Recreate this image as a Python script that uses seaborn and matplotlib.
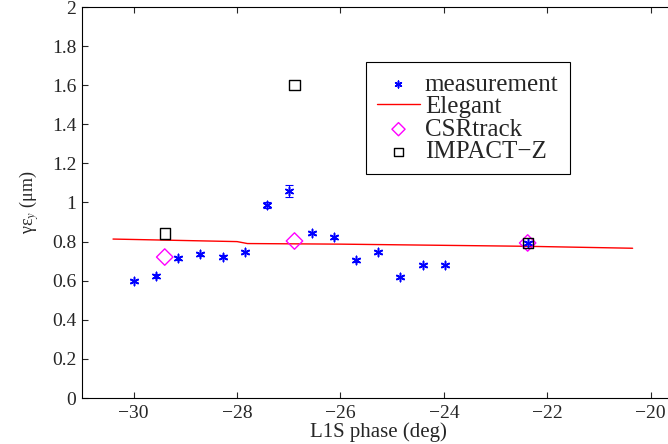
import numpy as np
import pandas as pd
import matplotlib
matplotlib.use("Agg")
import matplotlib.pyplot as plt
import seaborn as sns

# measurement data
meas_phase = [-30.0, -29.57, -29.14, -28.71, -28.28, -27.85, -27.42, -26.99,
              -26.56, -26.13, -25.70, -25.27, -24.84, -24.41, -23.98, -22.38]
meas_emit = [0.598, 0.624, 0.714, 0.735, 0.723, 0.748, 0.989, 1.057,
             0.844, 0.821, 0.704, 0.747, 0.619, 0.680, 0.680, 0.793]
meas_err = [0.006, 0.008, 0.006, 0.007, 0.006, 0.006, 0.015, 0.03,
            0.006, 0.006, 0.006, 0.006, 0.006, 0.006, 0.006, 0.006]

# Elegant simulation
ele_phase = [-30.4, -28.0, -27.8, -26.0, -22.4, -20.35]
ele_emit = [0.813, 0.800, 0.790, 0.787, 0.776, 0.766]

# CSRtrack simulation
csr_phase = [-29.4, -26.89, -22.38]
csr_emit = [0.721, 0.803, 0.793]

# IMPACT-Z simulation
imp_phase = [-29.4, -26.89, -22.38]
imp_emit = [0.842, 1.600, 0.793]

x_ticks = [-30, -28, -26, -24, -22, -20]
x_ticklabels = ['\u221230', '\u221228', '\u221226', '\u221224', '\u221222', '\u221220']
y_ticks = [0, 0.2, 0.4, 0.6, 0.8, 1.0, 1.2, 1.4, 1.6, 1.8, 2.0]
y_ticklabels = ['0', '0.2', '0.4', '0.6', '0.8', '1', '1.2', '1.4', '1.6', '1.8', '2']

sns.set_style("white")
plt.rcParams['font.family'] = ['Liberation Serif', 'DejaVu Serif']
plt.rcParams['mathtext.fontset'] = 'stix'

fig = plt.figure(figsize=(6.68, 4.44), dpi=100)
ax = fig.add_axes([82/668, 46/444, 592/668, 391/444])

ax.errorbar(meas_phase, meas_emit, yerr=meas_err, fmt='none', ecolor='blue',
            elinewidth=0.8, capsize=3, capthick=0.8, zorder=2)
sns.scatterplot(x=meas_phase, y=meas_emit, ax=ax, marker=(6, 2, 0), color='blue',
                s=36, linewidth=1.1, edgecolor='blue', label='measurement', zorder=3)
sns.lineplot(x=ele_phase, y=ele_emit, ax=ax, color='red', linewidth=1.0,
             label='Elegant', zorder=2)
sns.scatterplot(x=csr_phase, y=csr_emit, ax=ax, marker='D', s=70,
                facecolor='none', edgecolor='magenta', linewidth=1.0,
                label='CSRtrack', zorder=4)
sns.scatterplot(x=imp_phase, y=imp_emit, ax=ax, marker='s', s=55,
                facecolor='none', edgecolor='black', linewidth=1.0,
                label='IMPACT\u2212Z', zorder=4)

ax.set_xlim(-31, -31 + 592/51.7)
ax.set_ylim(0, 2)
ax.set_xticks(x_ticks)
ax.set_xticklabels(x_ticklabels)
ax.set_yticks(y_ticks)
ax.set_yticklabels(y_ticklabels)
ax.tick_params(direction='in', length=4, width=0.8, labelsize=14, top=True, right=True,
               bottom=True, left=True)
ax.tick_params(axis='y', pad=4)
ax.tick_params(axis='x', pad=5)
for sp in ax.spines.values():
    sp.set_visible(True)
    sp.set_color('black')
    sp.set_linewidth(0.8)

ax.set_xlabel('L1S phase (deg)', fontsize=15, labelpad=0)
ax.set_ylabel('γε$_{y}$ (μm)', fontsize=13, labelpad=8)

leg = ax.legend(loc='upper left', bbox_to_anchor=((366-82)/592, (398-62)/391), fontsize=18,
                frameon=True, fancybox=False, framealpha=1, edgecolor='black',
                borderpad=0.45, labelspacing=0.0, handletextpad=0.2, handlelength=1.7,
                borderaxespad=0, markerscale=0.8)
leg.get_frame().set_linewidth(0.8)

fig.savefig('out.png', dpi=100)
